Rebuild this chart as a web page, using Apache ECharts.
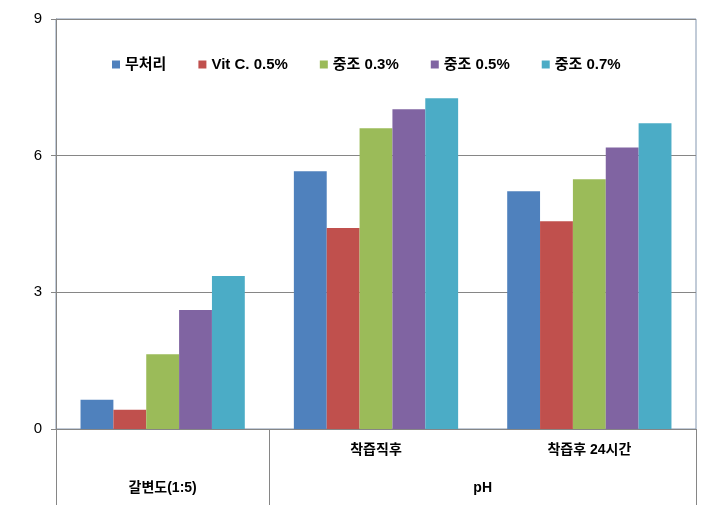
<!DOCTYPE html>
<html>
<head>
<meta charset="utf-8">
<script src="https://cdn.jsdelivr.net/npm/echarts@6/dist/echarts.min.js"></script>
<style>html,body{margin:0;padding:0;background:#fff}#c{width:708px;height:524px}</style>
</head>
<body>
<div id="c"></div>
<script>
var categories = ['', '착즙직후', '착즙후 24시간'];
var groupLabels = ['갈변도(1:5)', 'pH'];
var seriesNames = ['무처리', 'Vit C. 0.5%', '중조 0.3%', '중조 0.5%', '중조 0.7%'];
var s0 = [0.64, 5.66, 5.22];
var s1 = [0.42, 4.41, 4.56];
var s2 = [1.64, 6.60, 5.48];
var s3 = [2.61, 7.02, 6.18];
var s4 = [3.36, 7.26, 6.71];
var yTicks = [0, 3, 6, 9];

var colors = ['#4F81BD', '#C0504D', '#9BBB59', '#8064A2', '#4BACC6'];
var values = [s0, s1, s2, s3, s4];
var FONT = "'Liberation Sans', 'Noto Sans CJK KR', sans-serif";

var chart = echarts.init(document.getElementById('c'), null, {renderer: 'canvas'});
chart.setOption({
  animation: false,
  color: colors,
  textStyle: {fontFamily: FONT},
  grid: {left: 56, right: 12, top: 19, bottom: 95, show: true, borderColor: '#8497B0', borderWidth: 1, containLabel: false},
  legend: {
    top: 52, left: 107,
    itemWidth: 8, itemHeight: 8, itemGap: 32,
    icon: 'rect',
    textStyle: {fontSize: 15, fontWeight: 'bold', color: '#000', fontFamily: FONT},
    data: seriesNames
  },
  xAxis: [{
    type: 'category',
    data: categories,
    axisLine: {show: true, lineStyle: {color: '#868686'}},
    axisTick: {show: false},
    axisLabel: {color: '#000', fontSize: 14, fontWeight: 'bold', margin: 14, fontFamily: FONT},
    splitLine: {show: false}
  }, {
    type: 'value',
    min: 0, max: 3,
    position: 'bottom',
    axisLine: {show: false},
    axisTick: {show: true, customValues: [0, 1, 3], length: 76, lineStyle: {color: '#868686'}},
    axisLabel: {
      show: true, customValues: [0.5, 2], margin: 52, color: '#000', fontSize: 14, fontWeight: 'bold', fontFamily: FONT,
      formatter: function (v) { return v === 0.5 ? groupLabels[0] : (v === 2 ? groupLabels[1] : ''); }
    },
    splitLine: {show: false}
  }],
  yAxis: {
    type: 'value',
    min: 0, max: 9, interval: 3,
    axisLine: {show: true, lineStyle: {color: '#868686'}},
    axisTick: {show: true, length: 5, lineStyle: {color: '#868686'}},
    axisLabel: {color: '#000', fontSize: 15, margin: 14, fontFamily: FONT,
      formatter: function (v) { return yTicks.indexOf(v) >= 0 ? String(v) : ''; }},
    splitLine: {show: true, lineStyle: {color: '#868686'}}
  },
  series: seriesNames.map(function (n, i) {
    return {
      name: n, type: 'bar', xAxisIndex: 0,
      data: values[i],
      barGap: '0%', barCategoryGap: '23%',
      itemStyle: {color: colors[i]}
    };
  })
});
</script>
</body>
</html>
